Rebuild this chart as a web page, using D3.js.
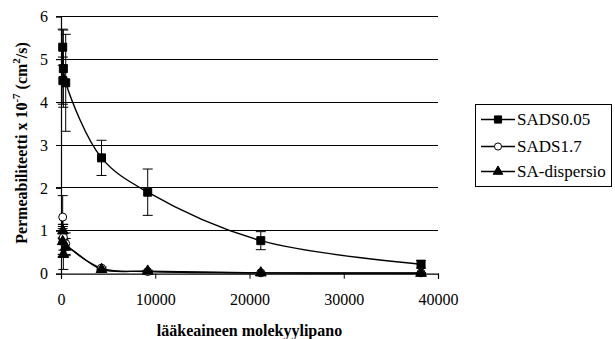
<!DOCTYPE html>
<html><head><meta charset="utf-8">
<script src="https://cdn.jsdelivr.net/npm/d3@7"></script>
<style>body{margin:0;background:#fff}svg{display:block}text{font-family:"Liberation Serif","Times New Roman","DejaVu Serif",serif;fill:#000}</style>
</head><body><svg id="c" width="615" height="339"></svg>
<script>
const xTicks = [0, 10000, 20000, 30000, 40000];
const yTicks = [0, 1, 2, 3, 4, 5, 6];
const molWeight = [180, 200, 250, 500, 4300, 9200, 21200, 38200];
const sads005 = [5.28, 4.5, 4.78, 4.45, 2.7, 1.9, 0.77, 0.22];
const sads005Err = [0.42, 0.55, 0.9, 1.13, 0.41, 0.54, 0.21, 0.09];
const sads17 = [1.32, 0.75, 0.85, 0.7, 0.13, 0.05, 0.02, 0.02];
const sads17Err = [0.5, 0.35, 0.3, 0.25, 0.03, 0.02, 0.01, 0.01];
const saDisp = [0.75, 1.0, 0.45, 0.62, 0.1, 0.06, 0.02, 0.01];
const saDispErr = [0.3, 0.15, 0.35, 0.2, 0.03, 0.02, 0.01, 0.01];
const seriesNames = ["SADS0.05", "SADS1.7", "SA-dispersio"];

const FONT = '"Liberation Serif","Times New Roman",serif';
const svg = d3.select("#c");
const x = d3.scaleLinear().domain([0, 40000]).range([61, 438]);
const y = d3.scaleLinear().domain([0, 6]).range([273.7, 16.3]);

// gridlines
svg.append("g").selectAll("line").data(yTicks.filter(d => d > 0)).join("line")
  .attr("x1", 56).attr("x2", 438).attr("y1", d => y(d)).attr("y2", d => y(d))
  .attr("stroke", "#000").attr("stroke-width", 1).attr("shape-rendering", "crispEdges");

// y axis
const yAxis = svg.append("g").attr("transform", "translate(61,0)")
  .call(d3.axisLeft(y).tickValues(yTicks).tickSize(5).tickPadding(8).tickFormat(d3.format("d")));
// x axis
const xAxis = svg.append("g").attr("transform", `translate(0,${y(0)})`)
  .call(d3.axisBottom(x).tickValues(xTicks).tickSize(5).tickPadding(15).tickFormat(d3.format("d")));
[yAxis, xAxis].forEach(a => {
  a.attr("font-family", FONT);
  a.select(".domain").attr("stroke", "#000").attr("stroke-width", 1.2);
  a.selectAll(".tick line").attr("stroke", "#000");
  a.selectAll("text").style("font-family", FONT).style("font-size", "16px").attr("fill", "#000");
});

const series = [
  {name: seriesNames[0], vals: sads005, err: sads005Err, sym: d3.symbolSquare, fill: "#000", size: 64},
  {name: seriesNames[1], vals: sads17, err: sads17Err, sym: d3.symbolCircle, fill: "#fff", size: 50},
  {name: seriesNames[2], vals: saDisp, err: saDispErr, sym: d3.symbolTriangle, fill: "#000", size: 50}
];

const line = d3.line().x(d => x(d[0])).y(d => y(d[1])).curve(d3.curveCatmullRom.alpha(0.5));

series.forEach(s => {
  const pts = molWeight.map((m, i) => [m, s.vals[i], s.err[i]]);
  svg.append("path").datum(pts).attr("d", line).attr("fill", "none")
    .attr("stroke", "#000").attr("stroke-width", 1.4);
  const eb = svg.append("g").attr("stroke", "#000").attr("stroke-width", 1);
  pts.forEach(p => {
    const cx = x(p[0]);
    eb.append("line").attr("x1", cx).attr("x2", cx).attr("y1", y(p[1] - p[2])).attr("y2", y(p[1] + p[2]));
    [p[1] - p[2], p[1] + p[2]].forEach(v => {
      eb.append("line").attr("x1", cx - 5).attr("x2", cx + 5).attr("y1", y(v)).attr("y2", y(v));
    });
  });
});
series.forEach(s => {
  const pts = molWeight.map((m, i) => [m, s.vals[i]]);
  svg.append("g").selectAll("path").data(pts).join("path")
    .attr("d", d3.symbol().type(s.sym).size(s.size))
    .attr("transform", d => `translate(${x(d[0])},${y(d[1])})`)
    .attr("fill", s.fill).attr("stroke", "#000").attr("stroke-width", 1);
});

// axis titles
svg.append("text").attr("x", 249.5).attr("y", 336).attr("text-anchor", "middle")
  .style("font-weight", "bold").style("font-size", "16px").text("lääkeaineen molekyylipano");
const yt = svg.append("text").attr("transform", "translate(27,143) rotate(-90)").attr("text-anchor", "middle")
  .style("font-weight", "bold").style("font-size", "16px");
yt.append("tspan").text("Permeabiliteetti x 10");
yt.append("tspan").attr("dy", -7).style("font-size", "11px").text("-7");
yt.append("tspan").attr("dy", 7).text(" (cm");
yt.append("tspan").attr("dy", -7).style("font-size", "11px").text("2");
yt.append("tspan").attr("dy", 7).text("/s)");

// legend
const lg = svg.append("g");
lg.append("rect").attr("x", 475.5).attr("y", 104.5).attr("width", 136).attr("height", 82)
  .attr("fill", "#fff").attr("stroke", "#000").attr("stroke-width", 1);
const ly = [119.5, 146.5, 171.5];
series.forEach((s, i) => {
  lg.append("line").attr("x1", 481).attr("x2", 515).attr("y1", ly[i]).attr("y2", ly[i])
    .attr("stroke", "#000").attr("stroke-width", 1.4);
  lg.append("path").attr("d", d3.symbol().type(s.sym).size(s.size * 0.8)())
    .attr("transform", `translate(498,${ly[i]})`).attr("fill", s.fill).attr("stroke", "#000");
  lg.append("text").attr("x", 517).attr("y", ly[i] + 5.5).style("font-size", "17px").text(s.name);
});
</script></body></html>
